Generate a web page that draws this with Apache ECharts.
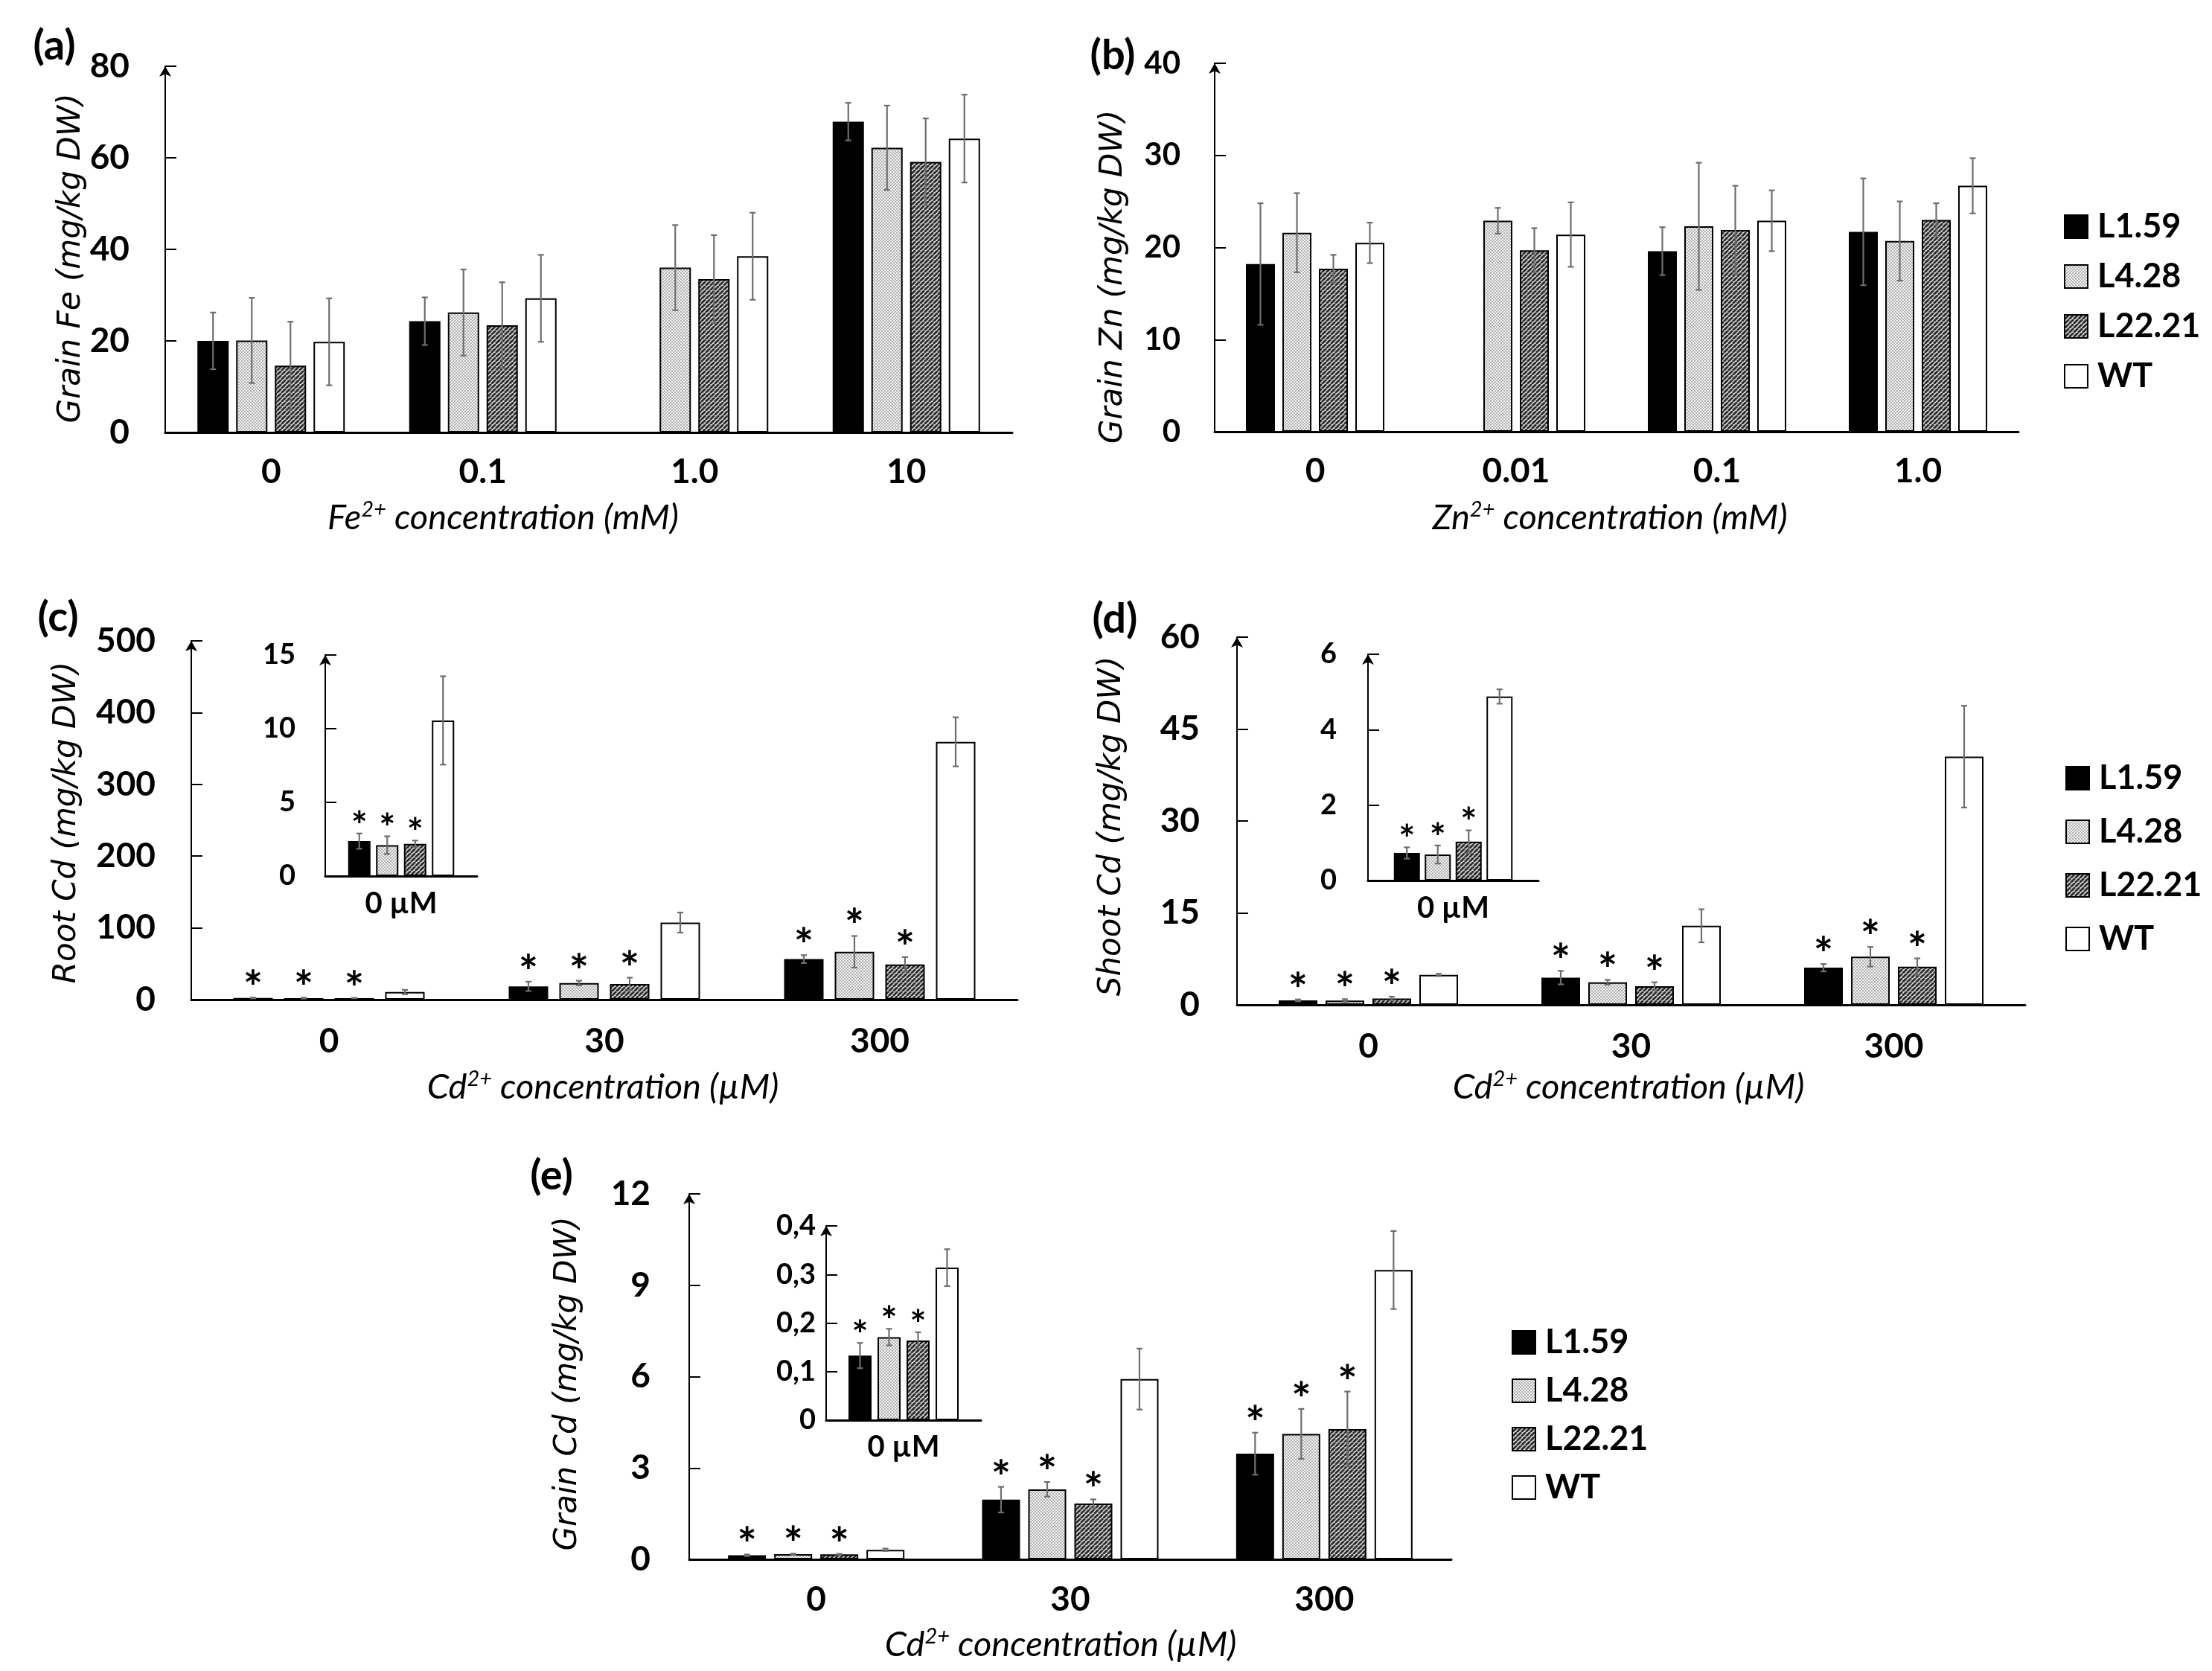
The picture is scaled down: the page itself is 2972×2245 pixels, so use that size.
<!DOCTYPE html>
<html><head><meta charset="utf-8">
<script src="https://cdn.jsdelivr.net/npm/echarts@6/dist/echarts.min.js"></script>
<style>html,body{margin:0;padding:0;background:#fff}#c{width:2972px;height:2245px}</style>
</head><body><div id="c"></div>
<script>
// ---------------- DATA ----------------
const lineNames = ['L1.59', 'L4.28', 'L22.21', 'WT'];

// (a) Grain Fe
const feCats = ['0', '0.1', '1.0', '10'];
const feL159 = [20.0, 24.3, null, 67.9];
const feL159Err = [6.2, 5.2, null, 4.1];
const feL428 = [20.1, 26.2, 36.0, 62.2];
const feL428Err = [9.3, 9.4, 9.3, 9.2];
const feL2221 = [14.6, 23.4, 33.5, 59.1];
const feL2221Err = [9.6, 9.4, 9.6, 9.5];
const feWT = [19.8, 29.3, 38.5, 64.2];
const feWTErr = [9.5, 9.5, 9.5, 9.6];
const feTicks = [0, 20, 40, 60, 80];

// (b) Grain Zn
const znCats = ['0', '0.01', '0.1', '1.0'];
const znL159 = [18.2, null, 19.6, 21.7];
const znL159Err = [6.6, null, 2.6, 5.8];
const znL428 = [21.6, 22.9, 22.3, 20.7];
const znL428Err = [4.3, 1.4, 6.9, 4.3];
const znL2221 = [17.7, 19.7, 21.9, 23.0];
const znL2221Err = [1.5, 2.4, 4.8, 1.8];
const znWT = [20.5, 21.4, 22.9, 26.7];
const znWTErr = [2.2, 3.5, 3.3, 3.0];
const znTicks = [0, 10, 20, 30, 40];

// (c) Root Cd
const cdCats = ['0', '30', '300'];
const insetCats = ['0 \u00b5M'];
const rootL159 = [2.37, 18.5, 56.5];
const rootL159Err = [0.52, 6.5, 5.5];
const rootL428 = [2.1, 23.1, 66.7];
const rootL428Err = [0.6, 3.3, 22.0];
const rootL2221 = [2.19, 21.8, 49.1];
const rootL2221Err = [0.22, 8.8, 10.2];
const rootWT = [10.56, 107.4, 359.3];
const rootWTErr = [3.0, 14.0, 34.2];
const rootStars = [[1, 1, 1], [1, 1, 1], [1, 1, 1], [0, 0, 0]];
const rootTicks = [0, 100, 200, 300, 400, 500];
const rootInsetTicks = [0, 5, 10, 15];

// (d) Shoot Cd
const shootL159 = [0.73, 4.44, 6.06];
const shootL159Err = [0.15, 1.1, 0.6];
const shootL428 = [0.69, 3.68, 7.85];
const shootL428Err = [0.24, 0.4, 1.6];
const shootL2221 = [1.03, 3.03, 6.23];
const shootL2221Err = [0.3, 0.65, 1.35];
const shootWT = [4.88, 12.9, 40.5];
const shootWTErr = [0.19, 2.7, 8.3];
const shootStars = [[1, 1, 1], [1, 1, 1], [1, 1, 1], [0, 0, 0]];
const shootTicks = [0, 15, 30, 45, 60];
const shootInsetTicks = [0, 2, 4, 6];

// (e) Grain Cd
const grainL159 = [0.133, 1.96, 3.47];
const grainL159Err = [0.026, 0.42, 0.69];
const grainL428 = [0.171, 2.30, 4.12];
const grainL428Err = [0.017, 0.24, 0.82];
const grainL2221 = [0.164, 1.83, 4.28];
const grainL2221Err = [0.017, 0.14, 1.23];
const grainWT = [0.314, 5.92, 9.50];
const grainWTErr = [0.038, 1.0, 1.28];
const grainStars = [[1, 1, 1], [1, 1, 1], [1, 1, 1], [0, 0, 0]];
const grainTicks = [0, 3, 6, 9, 12];
const grainInsetTicks = [0, 0.1, 0.2, 0.3, 0.4];

// ---------------- STYLES ----------------
function dotPattern() {
  const c = document.createElement('canvas'); c.width = 4; c.height = 4;
  const g = c.getContext('2d');
  g.fillStyle = '#f3f3f3'; g.fillRect(0, 0, 4, 4);
  g.fillStyle = '#b2b2b2'; g.fillRect(0, 0, 2, 2); g.fillRect(2, 2, 2, 2);
  return { image: c, repeat: 'repeat' };
}
function hatchPattern() {
  const s = 6;
  const c = document.createElement('canvas'); c.width = s; c.height = s;
  const g = c.getContext('2d');
  g.fillStyle = '#dcdcdc'; g.fillRect(0, 0, s, s);
  g.strokeStyle = '#2c2c2c'; g.lineWidth = 2.8;
  [-s, 0, s].forEach(k => { g.beginPath(); g.moveTo(k, s); g.lineTo(k + s, 0); g.stroke(); });
  return { image: c, repeat: 'repeat' };
}
const fills = ['#000000', dotPattern(), hatchPattern(), '#ffffff'];
const BOLD = 'Lato';
const first = a => [a[0]];

const panels = [
  { grid: { left: 222, top: 89, width: 1138, height: 492 }, cats: feCats, ticks: feTicks,
    values: [feL159, feL428, feL2221, feWT], errs: [feL159Err, feL428Err, feL2221Err, feWTErr],
    bw: 42, gap: 10, tick: 46, tickMargin: 48, cat: 46, catMargin: 30 },
  { grid: { left: 1632, top: 85, width: 1080, height: 495 }, cats: znCats, ticks: znTicks,
    values: [znL159, znL428, znL2221, znWT], errs: [znL159Err, znL428Err, znL2221Err, znWTErr],
    bw: 39, gap: 10, tick: 42, tickMargin: 46, cat: 46, catMargin: 30 },
  { grid: { left: 257, top: 861, width: 1110, height: 482 }, cats: cdCats, ticks: rootTicks,
    values: [rootL159, rootL428, rootL2221, rootWT], errs: [rootL159Err, rootL428Err, rootL2221Err, rootWTErr],
    stars: rootStars, bw: 53, gap: 15, tick: 46, tickMargin: 48, cat: 46, catMargin: 33, star: 62, starGap: 11 },
  { grid: { left: 437, top: 880, width: 204, height: 297 }, cats: insetCats, ticks: rootInsetTicks,
    values: [rootL159, rootL428, rootL2221, rootWT].map(first), errs: [rootL159Err, rootL428Err, rootL2221Err, rootWTErr].map(first),
    stars: rootStars.map(first), bw: 30, gap: 7.5, tick: 38, tickMargin: 40, cat: 40, catMargin: 17, star: 52, starGap: 9 },
  { grid: { left: 1662, top: 856, width: 1059, height: 494 }, cats: cdCats, ticks: shootTicks,
    values: [shootL159, shootL428, shootL2221, shootWT], errs: [shootL159Err, shootL428Err, shootL2221Err, shootWTErr],
    stars: shootStars, bw: 52, gap: 11, tick: 46, tickMargin: 50, cat: 46, catMargin: 33, star: 62, starGap: 11 },
  { grid: { left: 1838, top: 879, width: 229, height: 304 }, cats: insetCats, ticks: shootInsetTicks,
    values: [shootL159, shootL428, shootL2221, shootWT].map(first), errs: [shootL159Err, shootL428Err, shootL2221Err, shootWTErr].map(first),
    stars: shootStars.map(first), bw: 35, gap: 6.5, tick: 38, tickMargin: 42, cat: 40, catMargin: 17, star: 52, starGap: 9 },
  { grid: { left: 926, top: 1604, width: 1024, height: 491 }, cats: cdCats, ticks: grainTicks,
    values: [grainL159, grainL428, grainL2221, grainWT], errs: [grainL159Err, grainL428Err, grainL2221Err, grainWTErr],
    stars: grainStars, bw: 51, gap: 11, tick: 46, tickMargin: 52, cat: 46, catMargin: 31, star: 62, starGap: 11 },
  { grid: { left: 1110, top: 1647, width: 208, height: 261 }, cats: insetCats, ticks: grainInsetTicks,
    values: [grainL159, grainL428, grainL2221, grainWT].map(first), errs: [grainL159Err, grainL428Err, grainL2221Err, grainWTErr].map(first),
    stars: grainStars.map(first), bw: 31, gap: 8, tick: 38, tickMargin: 14, cat: 40, catMargin: 16, star: 52, starGap: 9, comma: true }
];

const grids = [], xAxes = [], yAxes = [], series = [];
panels.forEach((p, gi) => {
  grids.push(Object.assign({ containLabel: false }, p.grid));
  xAxes.push({ type: 'category', gridIndex: gi, data: p.cats,
    axisLine: { lineStyle: { color: '#000', width: 3 } }, axisTick: { show: false },
    axisLabel: { color: '#000', fontFamily: BOLD, fontWeight: 'bold', fontSize: p.cat, margin: p.catMargin } });
  const mn = p.ticks[0], mx = p.ticks[p.ticks.length - 1], iv = p.ticks[1] - p.ticks[0];
  yAxes.push({ type: 'value', gridIndex: gi, min: mn, max: mx, interval: iv,
    axisLine: { show: true, symbol: ['none', 'arrow'], symbolSize: [12, 14], lineStyle: { color: '#000', width: 2 } },
    axisTick: { show: true, inside: true, length: 15, lineStyle: { color: '#000', width: 2 } },
    splitLine: { show: false },
    axisLabel: { color: '#000', fontFamily: BOLD, fontWeight: 'bold', fontSize: p.tick, margin: p.tickMargin,
      formatter: v => (p.comma ? (v === 0 ? '0' : v.toFixed(1).replace('.', ',')) : String(Math.round(v * 1000) / 1000)) } });
  p.values.forEach((vals, li) => {
    series.push({ type: 'bar', name: lineNames[li], xAxisIndex: gi, yAxisIndex: gi, data: vals,
      barWidth: p.bw, barGap: (p.gap / p.bw * 100) + '%', silent: true,
      itemStyle: { color: fills[li], borderColor: '#000', borderWidth: 2 } });
  });
  const ed = [];
  p.values.forEach((vals, li) => vals.forEach((v, ci) => {
    if (v != null) ed.push([ci, v, p.errs[li][ci], li, p.stars ? p.stars[li][ci] : 0]);
  }));
  series.push({ type: 'custom', xAxisIndex: gi, yAxisIndex: gi, z: 5, silent: true, data: ed,
    encode: { x: 0, y: 1 },
    renderItem: (params, api) => {
      const ci = api.value(0), v = api.value(1), e = api.value(2), li = api.value(3), st = api.value(4);
      const x = api.coord([ci, v])[0] + (li - 1.5) * (p.bw + p.gap);
      const yT = api.coord([ci, v + e])[1];
      const yB = api.coord([ci, Math.max(v - e, 0)])[1];
      const ls = { stroke: '#6e6e6e', lineWidth: 2.2 };
      const ch = [
        { type: 'line', shape: { x1: x, y1: yT, x2: x, y2: yB }, style: ls },
        { type: 'line', shape: { x1: x - 4, y1: yT, x2: x + 4, y2: yT }, style: ls },
        { type: 'line', shape: { x1: x - 4, y1: yB, x2: x + 4, y2: yB }, style: ls }
      ];
      if (st) ch.push({ type: 'text', x: x, y: yT - p.starGap,
        style: { text: '*', fontFamily: BOLD, fontWeight: 'bold', fontSize: p.star, fill: '#000', align: 'center', verticalAlign: 'middle' } });
      return { type: 'group', children: ch };
    } });
});

const legendBase = { data: lineNames, orient: 'vertical', itemWidth: 31, itemHeight: 31, selectedMode: false,
  icon: 'rect', textStyle: { fontFamily: BOLD, fontWeight: 'bold', fontSize: 45, color: '#000', lineHeight: 44, padding: [0, 0, 0, 8] } };
const legends = [
  Object.assign({}, legendBase, { left: 2768, top: 277, itemGap: 22 }),
  Object.assign({}, legendBase, { left: 2770, top: 1018, itemGap: 27 }),
  Object.assign({}, legendBase, { left: 2026, top: 1776, itemGap: 20 })
];

// ---------------- TEXT (titles) ----------------
const ytitles = [
  ['Grain Fe (mg/kg DW)', 96, 347], ['Grain Zn (mg/kg DW)', 1496, 372], ['Root Cd (mg/kg DW)', 90, 1105],
  ['Shoot Cd (mg/kg DW)', 1494, 1110], ['Grain Cd (mg/kg DW)', 763, 1859]
];
const xtitles = [
  ['Fe{s|2+} concentration (mM)', 676, 696], ['Zn{s|2+} concentration (mM)', 2163, 696],
  ['Cd{s|2+} concentration (\u00b5M)', 810, 1461], ['Cd{s|2+} concentration (\u00b5M)', 2188, 1461],
  ['Cd{s|2+} concentration (\u00b5M)', 1425, 2210]
];
const panelLabels = [['(a)', 73, 62], ['(b)', 1495, 75], ['(c)', 78, 830], ['(d)', 1498, 832], ['(e)', 741, 1580]];

const graphic = [];
ytitles.forEach(t => graphic.push({ type: 'text', x: t[1], y: t[2], rotation: Math.PI / 2,
  style: { text: t[0], fontFamily: 'DejaVu Sans', fontStyle: 'italic', fontSize: 42, fill: '#000', align: 'center', verticalAlign: 'middle' } }));
xtitles.forEach(t => graphic.push({ type: 'text', x: t[1], y: t[2],
  style: { text: t[0], fontFamily: 'Lato', fontStyle: 'italic', fontSize: 47, lineHeight: 52, fill: '#000', align: 'center', verticalAlign: 'middle',
    rich: { s: { fontFamily: 'Lato', fontStyle: 'italic', fontSize: 29, lineHeight: 28, verticalAlign: 'top', fill: '#000' } } } }));
panelLabels.forEach(t => graphic.push({ type: 'text', x: t[1], y: t[2],
  style: { text: t[0], fontFamily: BOLD, fontWeight: 'bold', fontSize: 56, fill: '#000', align: 'center', verticalAlign: 'middle' } }));

const chart = echarts.init(document.getElementById('c'));
chart.setOption({ animation: false, backgroundColor: '#fff', grid: grids, xAxis: xAxes, yAxis: yAxes,
  legend: legends, series: series, graphic: graphic });
</script></body></html>
